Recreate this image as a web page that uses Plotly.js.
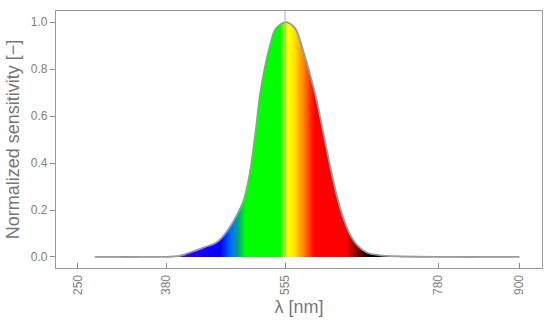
<!DOCTYPE html>
<html>
<head>
<meta charset="utf-8">
<script src="https://cdn.plot.ly/plotly-3.0.1.min.js"></script>
<style>html,body{margin:0;padding:0;background:#fff;}#chart{width:550px;height:326px;}</style>
</head>
<body>
<div id="chart"></div>
<script>
// Wavelength samples [nm] and normalized sensitivity
const wavelength = [275, 300, 350, 380, 390, 400, 415, 435, 455, 469, 484, 494, 503, 511, 518, 526, 533, 540, 548, 555, 558, 570, 582, 592, 602, 612, 621, 631, 641, 651, 661, 675, 695, 720, 750, 800, 850, 900];
const sensitivity = [0, 0, 0, 0.0005, 0.002, 0.005, 0.019, 0.040, 0.064, 0.107, 0.178, 0.240, 0.355, 0.519, 0.690, 0.818, 0.903, 0.967, 0.991, 1.0, 1.0, 0.974, 0.875, 0.775, 0.661, 0.519, 0.391, 0.263, 0.164, 0.093, 0.050, 0.019, 0.007, 0.003, 0.001, 0, 0, 0];

// Spectrum colour stops for the fill
const gradLambda = [275, 400, 430, 460, 476, 486, 497, 548, 553, 560, 568, 582, 596, 600, 645, 660, 675, 690, 900];
const gradColors = ['#3000ff', '#3000ff', '#1a00ff', '#0000ff', '#0070ff', '#00a090', '#00ff00', '#00ff00', '#80ff00', '#ffff00', '#ffe800', '#ff8800', '#ff1000', '#ff0000', '#ff0000', '#900000', '#200000', '#000000', '#000000'];

const tickVals = [250, 380, 555, 780, 900];
const yTickVals = [0, 0.2, 0.4, 0.6, 0.8, 1.0];
const peakLambda = 555;

const gStart = wavelength[0], gStop = wavelength[wavelength.length - 1];
const colorscale = gradLambda.map((l, i) => [(l - gStart) / (gStop - gStart), gradColors[i]]);

const trace = {
  x: wavelength,
  y: sensitivity,
  type: 'scatter',
  mode: 'lines',
  line: {color: '#9a9a9a', width: 1.8, shape: 'spline', smoothing: 0.9},
  fill: 'tozeroy',
  fillgradient: {type: 'horizontal', start: gStart, stop: gStop, colorscale: colorscale},
  hoverinfo: 'none'
};

const gray = '#808080';
const layout = {
  width: 550, height: 326,
  margin: {l: 56, r: 8, t: 11, b: 58},
  paper_bgcolor: '#ffffff', plot_bgcolor: '#ffffff',
  showlegend: false,
  font: {family: 'Liberation Sans, Arial, sans-serif', color: gray},
  xaxis: {
    range: [218, 933],
    tickvals: tickVals,
    ticktext: tickVals.map(String),
    tickangle: -90,
    ticks: 'inside', ticklen: 5, tickcolor: '#888', tickwidth: 1,
    ticklabelstandoff: 1,
    tickfont: {size: 12, color: gray},
    showgrid: false, zeroline: false,
    showline: true, linecolor: '#999', linewidth: 1.2, mirror: true,
    title: {text: 'λ [nm]', font: {size: 18, color: '#777'}, standoff: 6}
  },
  yaxis: {
    range: [-0.047, 1.048],
    tickvals: yTickVals,
    tickformat: '.1f',
    ticks: 'outside', ticklen: 5, tickcolor: '#888', tickwidth: 1,
    tickfont: {size: 12, color: gray},
    showgrid: false, zeroline: false,
    showline: true, linecolor: '#999', linewidth: 1.2, mirror: true,
    title: {text: 'Normalized sensitivity [−]', font: {size: 18, color: '#777'}, standoff: 6}
  },
  shapes: [{
    type: 'line', xref: 'x', yref: 'y',
    x0: peakLambda, x1: peakLambda, y0: 0, y1: 1.048,
    line: {color: '#b0b0b0', width: 1}, layer: 'above'
  }]
};

Plotly.newPlot('chart', [trace], layout, {staticPlot: true, displayModeBar: false});
</script>
</body>
</html>
